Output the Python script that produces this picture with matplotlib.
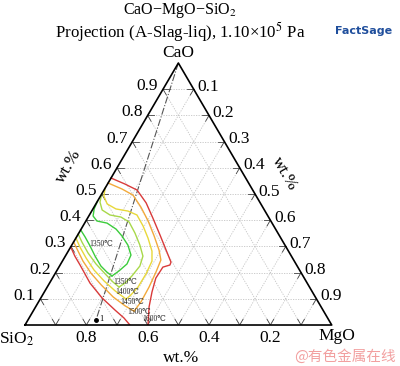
import matplotlib.pyplot as plt
import numpy as np

plt.rcParams['font.family'] = ['Liberation Serif', 'DejaVu Serif']
plt.rcParams['mathtext.fontset'] = 'stix'

H = np.sqrt(3) / 2

# isotherms, points as (CaO, MgO) mass fractions; SiO2 = 1 - CaO - MgO
# each isotherm has an upper branch (from the CaO-SiO2 edge round the right side)
# and a lower branch (from the CaO-SiO2 edge down to the tip / base)
iso_1600_upper = [(0.561, 0.000), (0.538, 0.057), (0.515, 0.108), (0.466, 0.162), (0.408, 0.213),
                  (0.344, 0.268), (0.286, 0.317), (0.240, 0.356), (0.229, 0.358), (0.221, 0.339),
                  (0.179, 0.337), (0.126, 0.351), (0.069, 0.370), (0.000, 0.401)]
iso_1600_lower = [(0.298, 0.000), (0.263, 0.031), (0.229, 0.065), (0.160, 0.132), (0.103, 0.200),
                  (0.057, 0.265), (0.027, 0.309), (0.000, 0.342)]

iso_1500_upper = [(0.542, 0.000), (0.519, 0.057), (0.496, 0.104), (0.450, 0.153), (0.397, 0.203),
                  (0.340, 0.251), (0.286, 0.294), (0.248, 0.319), (0.202, 0.326), (0.145, 0.332),
                  (0.088, 0.334), (0.053, 0.329)]
iso_1500_lower = [(0.317, 0.000), (0.282, 0.032), (0.244, 0.067), (0.198, 0.116), (0.153, 0.172),
                  (0.107, 0.234), (0.073, 0.290), (0.053, 0.329)]

iso_1450_upper = [(0.523, 0.000), (0.492, 0.011), (0.462, 0.037), (0.443, 0.075), (0.435, 0.118),
                  (0.420, 0.155), (0.378, 0.196), (0.332, 0.235), (0.282, 0.273), (0.244, 0.292),
                  (0.195, 0.297), (0.145, 0.296), (0.115, 0.288), (0.099, 0.280)]
iso_1450_lower = [(0.332, 0.000), (0.298, 0.030), (0.256, 0.071), (0.210, 0.120), (0.168, 0.174),
                  (0.130, 0.229), (0.099, 0.280)]

iso_1400_upper = [(0.500, 0.000), (0.469, 0.010), (0.439, 0.032), (0.420, 0.067), (0.412, 0.107),
                  (0.393, 0.143), (0.351, 0.183), (0.305, 0.222), (0.263, 0.253), (0.225, 0.262),
                  (0.187, 0.255), (0.160, 0.246), (0.145, 0.234)]
iso_1400_lower = [(0.347, 0.000), (0.317, 0.027), (0.275, 0.068), (0.233, 0.115), (0.195, 0.164),
                  (0.164, 0.205), (0.145, 0.234)]

iso_1350_upper = [(0.473, 0.000), (0.443, 0.004), (0.416, 0.014), (0.397, 0.036), (0.389, 0.073),
                  (0.366, 0.114), (0.340, 0.146), (0.305, 0.183), (0.267, 0.212), (0.233, 0.216),
                  (0.206, 0.203), (0.187, 0.190)]
iso_1350_lower = [(0.363, 0.000), (0.336, 0.028), (0.302, 0.061), (0.263, 0.097), (0.225, 0.135),
                  (0.202, 0.166), (0.187, 0.190)]

isotherms = [
    (1600, '#d93a3a', iso_1600_upper, iso_1600_lower),
    (1500, '#f2a93b', iso_1500_upper, iso_1500_lower),
    (1450, '#e8d83a', iso_1450_upper, iso_1450_lower),
    (1400, '#a8d84a', iso_1400_upper, iso_1400_lower),
    (1350, '#3ccc3c', iso_1350_upper, iso_1350_lower),
]

point_1 = (0.019, 0.222)  # CaO, MgO

tick_vals = [0.1, 0.2, 0.3, 0.4, 0.5, 0.6, 0.7, 0.8, 0.9]
bottom_vals = [0.8, 0.6, 0.4, 0.2]


def tern(cao, mgo):
    cao = np.asarray(cao, dtype=float)
    mgo = np.asarray(mgo, dtype=float)
    return mgo + cao / 2, cao * H


def fpos(x, y):
    # pixel position -> figure fraction
    return x / 400, 1 - y / 366


fig = plt.figure(figsize=(4.0, 3.66), dpi=100)
ax = fig.add_axes([0.0625, 0.112, 0.7668, 0.7158])
ax.set_xlim(0, 1)
ax.set_ylim(0, H)
ax.axis('off')

# grid
for v in tick_vals:
    for a, b in [((v, 0), (v, 1 - v)), ((0, v), (1 - v, v)), ((0, 1 - v), (1 - v, 0))]:
        x, y = tern([a[0], b[0]], [a[1], b[1]])
        ax.plot(x, y, color='#c4c4c4', lw=0.6, ls=(0, (1.5, 1.5)), zorder=1)

# ticks
d = 0.022
for v in tick_vals:
    segs = [((v, 0), (v, d)), ((v, 0), (v - d, d)),
            ((1 - v, v), (1 - v - d, v)), ((1 - v, v), (1 - v, v - d)),
            ((0, 1 - v), (d, 1 - v)), ((0, 1 - v), (d, 1 - v - d))]
    for a, b in segs:
        x, y = tern([a[0], b[0]], [a[1], b[1]])
        ax.plot(x, y, color='#444444', lw=0.6, zorder=2)

# triangle frame
x, y = tern([0, 0, 1, 0], [0, 1, 0, 0])
ax.plot(x, y, color='black', lw=1.2, zorder=4, clip_on=False)

# join line CaO -> point 1
x, y = tern([1, point_1[0]], [0, point_1[1]])
ax.plot(x, y, color='#555555', lw=0.8, ls='-.', zorder=3)
x, y = tern(point_1[0], point_1[1])
ax.plot(x, y, 'o', color='black', ms=2.5, zorder=5)
ax.text(x + 0.012, y + 0.004, '1', fontsize=6, va='center', ha='left', zorder=6)

# isotherms
for temp, col, up, low in isotherms:
    for branch in (up, low):
        c = [p[0] for p in branch]
        m = [p[1] for p in branch]
        x, y = tern(c, m)
        ax.plot(x, y, color=col, lw=1.0, zorder=3, solid_joinstyle='round')

# isotherm labels
lab_kw = dict(fontsize=5.5, color='#222222', ha='left', va='center', zorder=6)
ax.text(0.287, 0.1438, '1350℃', **lab_kw)
ax.text(0.2934, 0.1107, '1400℃', **lab_kw)
ax.text(0.3097, 0.0777, '1450℃', **lab_kw)
ax.text(0.3326, 0.0446, '1500℃', **lab_kw)
ax.text(0.3815, 0.0215, '1600℃', **lab_kw)
ax.text(0.2087, 0.2694, '1350℃', **lab_kw)

# tick labels
fs = 12.5
for v in tick_vals:
    x, y = tern(v, 0)
    ax.text(x - 0.016, y + 0.010, f'{v:.1f}', fontsize=fs, ha='right', va='center', clip_on=False)
    x, y = tern(1 - v, v)
    ax.text(x + 0.012, y + 0.008, f'{v:.1f}', fontsize=fs, ha='left', va='center', clip_on=False)
for s in bottom_vals:
    x, y = tern(0, 1 - s)
    ax.text(x, y - 0.043, f'{s:.1f}', fontsize=fs, ha='center', va='center', clip_on=False)

# vertex and axis labels
fig.text(*fpos(178, 53), 'CaO', fontsize=fs, ha='center', va='center')
fig.text(*fpos(17, 339), 'SiO$_2$', fontsize=fs, ha='center', va='center')
fig.text(*fpos(337, 336), 'MgO', fontsize=fs, ha='center', va='center')
fig.text(*fpos(69, 166), 'wt.%', fontsize=fs, ha='center', va='center', rotation=60)
fig.text(*fpos(285, 174), 'wt.%', fontsize=fs, ha='center', va='center', rotation=-60)
fig.text(*fpos(181, 358), 'wt.%', fontsize=fs, ha='center', va='center')

# title
fig.text(*fpos(180, 1.5), 'CaO\u2212MgO\u2212SiO$_2$', fontsize=11.5, ha='center', va='top')
fig.text(*fpos(180, 20.5), 'Projection (A-Slag-liq), 1.10\u00d710$^5$ Pa', fontsize=12.2,
         ha='center', va='top')

# FactSage logo
fig.text(*fpos(364, 31), 'FactSage', fontsize=8, fontweight='bold', color='#1f4e9c',
         family='DejaVu Sans', ha='center', va='center')

# watermark
fig.text(*fpos(345, 357), '@有色金属在线', fontsize=10.5, color='#f2a0a0',
         family=['Noto Sans CJK SC', 'DejaVu Sans'], ha='center', va='center')

fig.savefig('out.png', dpi=100)
